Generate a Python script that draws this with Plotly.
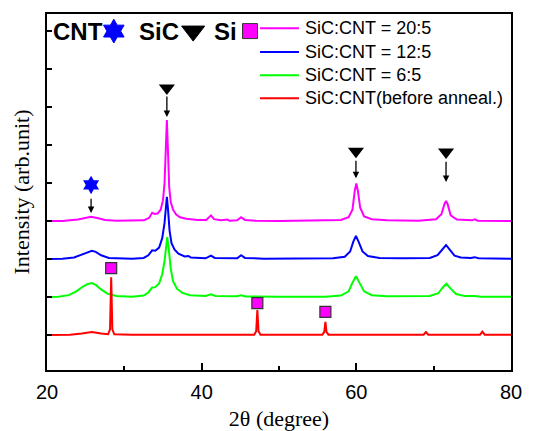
import plotly.graph_objects as go

# ---------------- data (2theta in degrees, intensity in arb. units) ----------------
series_names = ["SiC:CNT = 20:5", "SiC:CNT = 12:5", "SiC:CNT = 6:5", "SiC:CNT(before anneal.)"]
series_colors = ["#FF00FF", "#0000FF", "#00FF00", "#FF0000"]
series_offsets = [3, 2, 1, 0]

x_20_5 = [20.0, 22.0, 24.0, 25.0, 25.7, 26.5, 27.5, 29.0, 31.0, 32.5, 33.2, 33.6, 33.9, 34.3, 34.7,
          35.0, 35.2, 35.35, 35.5, 35.65, 35.8, 36.0, 36.3, 36.7, 37.2, 38.0, 38.4, 39.5, 40.6, 41.2,
          41.6, 42.5, 43.3, 43.6, 44.6, 45.1, 45.6, 47.0, 50.0, 55.0, 58.0, 59.0, 59.5, 59.8, 60.0,
          60.2, 60.5, 61.0, 62.0, 64.0, 68.0, 70.3, 71.0, 71.4, 71.6, 71.8, 72.2, 73.0, 75.0, 75.3,
          75.7, 80.0]
y_20_5 = [0.0, 0.005, 0.04, 0.08, 0.11, 0.08, 0.03, 0.01, 0.005, 0.02, 0.08, 0.22, 0.19, 0.2, 0.3,
          0.55, 1.0, 1.8, 2.66, 1.8, 0.9, 0.5, 0.3, 0.17, 0.1, 0.06, 0.05, 0.03, 0.03, 0.15,
          0.05, 0.02, 0.04, 0.01, 0.02, 0.1, 0.03, 0.01, 0.005, 0.01, 0.03, 0.1, 0.3, 0.8, 0.99,
          0.8, 0.35, 0.12, 0.05, 0.02, 0.01, 0.05, 0.18, 0.45, 0.53, 0.45, 0.15, 0.04, 0.02, 0.045,
          0.01, 0.0]

x_12_5 = [20.0, 22.0, 23.5, 24.5, 25.3, 25.8, 26.3, 27.0, 28.0, 29.5, 31.0, 32.5, 33.1, 33.6, 34.0,
          34.5, 34.9, 35.2, 35.35, 35.5, 35.65, 35.85, 36.1, 36.5, 37.0, 37.8, 38.3, 38.6, 40.5, 41.2,
          41.7, 43.3, 44.6, 45.1, 45.6, 48.0, 53.0, 57.0, 58.5, 59.2, 59.6, 59.95, 60.3, 60.8, 61.5,
          63.0, 66.0, 69.5, 70.5, 71.1, 71.6, 72.1, 72.7, 73.5, 74.8, 75.3, 75.8, 80.0]
y_12_5 = [0.0, 0.01, 0.04, 0.12, 0.2, 0.22, 0.19, 0.1, 0.03, 0.01, 0.005, 0.03, 0.1, 0.23, 0.22,
          0.3, 0.55, 0.95, 1.35, 1.64, 1.3, 0.75, 0.42, 0.25, 0.14, 0.07, 0.08, 0.04, 0.02, 0.09,
          0.03, 0.03, 0.02, 0.1, 0.03, 0.01, 0.01, 0.02, 0.06, 0.2, 0.45, 0.61, 0.45, 0.2, 0.08,
          0.03, 0.02, 0.03, 0.1, 0.25, 0.37, 0.24, 0.09, 0.04, 0.03, 0.05, 0.02, 0.01]

x_6_5 = [20.0, 21.5, 22.8, 23.8, 24.6, 25.2, 25.8, 26.3, 27.0, 27.8, 29.0, 31.0, 32.5, 33.1, 33.6,
         34.0, 34.5, 34.9, 35.2, 35.4, 35.55, 35.75, 36.0, 36.3, 36.8, 37.5, 38.5, 40.5, 41.2, 41.8,
         44.5, 45.1, 45.7, 50.0, 56.0, 58.0, 59.0, 59.5, 59.95, 60.4, 61.0, 62.0, 64.0, 69.5, 70.6,
         71.2, 71.65, 72.2, 72.9, 74.0, 75.3, 76.0, 80.0]
y_6_5 = [0.0, 0.01, 0.05, 0.15, 0.27, 0.34, 0.37, 0.32, 0.2, 0.09, 0.03, 0.01, 0.04, 0.12, 0.25,
         0.26, 0.36, 0.6, 0.95, 1.35, 1.58, 1.25, 0.75, 0.42, 0.22, 0.11, 0.05, 0.03, 0.07, 0.03,
         0.02, 0.045, 0.015, 0.01, 0.01, 0.04, 0.15, 0.38, 0.55, 0.38, 0.15, 0.05, 0.02, 0.03, 0.1,
         0.26, 0.35, 0.22, 0.08, 0.03, 0.03, 0.01, 0.01]

x_before = [20.0, 23.0, 24.5, 25.8, 27.0, 27.9, 28.15, 28.3, 28.45, 28.7, 31.0, 40.0, 46.8, 47.05,
            47.2, 47.35, 47.6, 55.6, 55.85, 56.0, 56.15, 56.4, 68.7, 69.0, 69.3, 76.0, 76.3, 76.6, 80.0]
y_before = [0.0, 0.01, 0.04, 0.08, 0.04, 0.02, 0.15, 1.52, 0.15, 0.02, 0.01, 0.01, 0.01, 0.1,
            0.66, 0.1, 0.01, 0.01, 0.08, 0.35, 0.08, 0.01, 0.01, 0.08, 0.01, 0.01, 0.09, 0.01, 0.01]

series_x = [x_20_5, x_12_5, x_6_5, x_before]
series_y = [y_20_5, y_12_5, y_6_5, y_before]

# phase markers (2theta, stacked intensity)
cnt_x = [25.7]
cnt_y = [3.95]
sic_x = [35.5, 59.95, 71.6]
sic_y = [6.5, 4.84, 4.82]
si_x = [28.3, 47.2, 56.0]
si_y = [1.76, 0.84, 0.61]
arrow_x = [25.7, 35.5, 59.95, 71.6]
arrow_tail_y = [3.63, 6.32, 4.63, 4.6]
arrow_tip_y = [3.21, 5.74, 4.13, 4.03]

x_ticks = [20, 40, 60, 80]

SANS = "Arial, Liberation Sans, sans-serif"
SERIF = "Times New Roman, Liberation Serif, serif"

fig = go.Figure()

for name, color, off, xs, ys in zip(series_names, series_colors, series_offsets, series_x, series_y):
    fig.add_trace(go.Scatter(x=xs, y=[v + off for v in ys], mode="lines", name=name,
                             line=dict(color=color, width=2), showlegend=False))

fig.add_trace(go.Scatter(x=cnt_x, y=cnt_y, mode="markers", showlegend=False, cliponaxis=False,
                         marker=dict(symbol="hexagram", size=14, color="#0000FF",
                                     line=dict(color="#0000FF", width=0))))
fig.add_trace(go.Scatter(x=sic_x, y=sic_y, mode="markers", showlegend=False, cliponaxis=False,
                         marker=dict(symbol="triangle-down", size=14, color="black")))
fig.add_trace(go.Scatter(x=si_x, y=si_y, mode="markers", showlegend=False, cliponaxis=False,
                         marker=dict(symbol="square", size=11, color="#FF00FF",
                                     line=dict(color="#333333", width=1.2))))

for ax_, t0, t1 in zip(arrow_x, arrow_tail_y, arrow_tip_y):
    fig.add_annotation(x=ax_, y=t1, ax=ax_, ay=t0, xref="x", yref="y", axref="x", ayref="y",
                       text="", showarrow=True, arrowhead=2, arrowsize=1, arrowwidth=1.3,
                       arrowcolor="black", standoff=0, startstandoff=0)

# ---- header key (paper-space overlay axes) ----
key_x = [0.144, 0.315, 0.4375]
key_y = [0.952, 0.952, 0.952]
key_symbols = ["hexagram", "triangle-down", "square"]
key_colors = ["#0000FF", "black", "#FF00FF"]
key_sizes = [18, 20, 15]
key_line = ["#0000FF", "black", "#333333"]
for kx, ky, ks, kc, kz, kl in zip(key_x, key_y, key_symbols, key_colors, key_sizes, key_line):
    fig.add_trace(go.Scatter(x=[kx], y=[ky], xaxis="x2", yaxis="y2", mode="markers",
                             showlegend=False, cliponaxis=False,
                             marker=dict(symbol=ks, size=kz, color=kc, line=dict(color=kl, width=1))))

for txt, tx in zip(["CNT", "SiC", "Si"], [0.008, 0.193, 0.356]):
    fig.add_annotation(x=tx, y=0.952, xref="paper", yref="paper", xanchor="left", yanchor="middle",
                       text="<b>" + txt + "</b>", showarrow=False,
                       font=dict(family=SANS, size=24, color="black"))

# ---- legend (drawn manually for exact spacing) ----
leg_rows = [0.960, 0.893, 0.828, 0.763]
for name, color, ly in zip(series_names, series_colors, leg_rows):
    fig.add_shape(type="line", xref="paper", yref="paper", x0=0.459, x1=0.543, y0=ly, y1=ly,
                  line=dict(color=color, width=2))
    fig.add_annotation(x=0.552, y=ly, xref="paper", yref="paper", xanchor="left", yanchor="middle",
                       text=name, showarrow=False, font=dict(family=SANS, size=18, color="black"))

fig.update_layout(
    width=545, height=431,
    margin=dict(l=47, r=34, t=14, b=61),
    paper_bgcolor="white", plot_bgcolor="white",
    showlegend=False,
    xaxis=dict(range=[20, 80], tickvals=x_ticks, ticks="inside", ticklen=7, tickwidth=1.5,
               tickcolor="black", showline=True, linecolor="black", linewidth=2, mirror=True,
               showgrid=False, zeroline=False, ticklabelstandoff=3, automargin=False,
               minor=dict(ticks="inside", dtick=10, tick0=0, ticklen=4, tickwidth=1.5,
                          tickcolor="black", showgrid=False),
               tickfont=dict(family=SANS, size=20, color="black"),
               title=dict(text="2θ (degree)", font=dict(family=SERIF, size=22, color="black"),
                          standoff=14)),
    yaxis=dict(range=[-0.92, 8.45], dtick=1, tick0=0, ticks="inside", ticklen=5, tickwidth=1.5,
               tickcolor="black", showticklabels=False, showline=True, linecolor="black",
               linewidth=2, mirror=True, showgrid=False, zeroline=False, automargin=False,
               title=dict(text="Intensity (arb.unit)", font=dict(family=SERIF, size=22, color="black"),
                          standoff=9)),
    xaxis2=dict(overlaying="x", range=[0, 1], visible=False, fixedrange=True),
    yaxis2=dict(overlaying="y", range=[0, 1], visible=False, fixedrange=True),
)

fig.write_html("out.html")
